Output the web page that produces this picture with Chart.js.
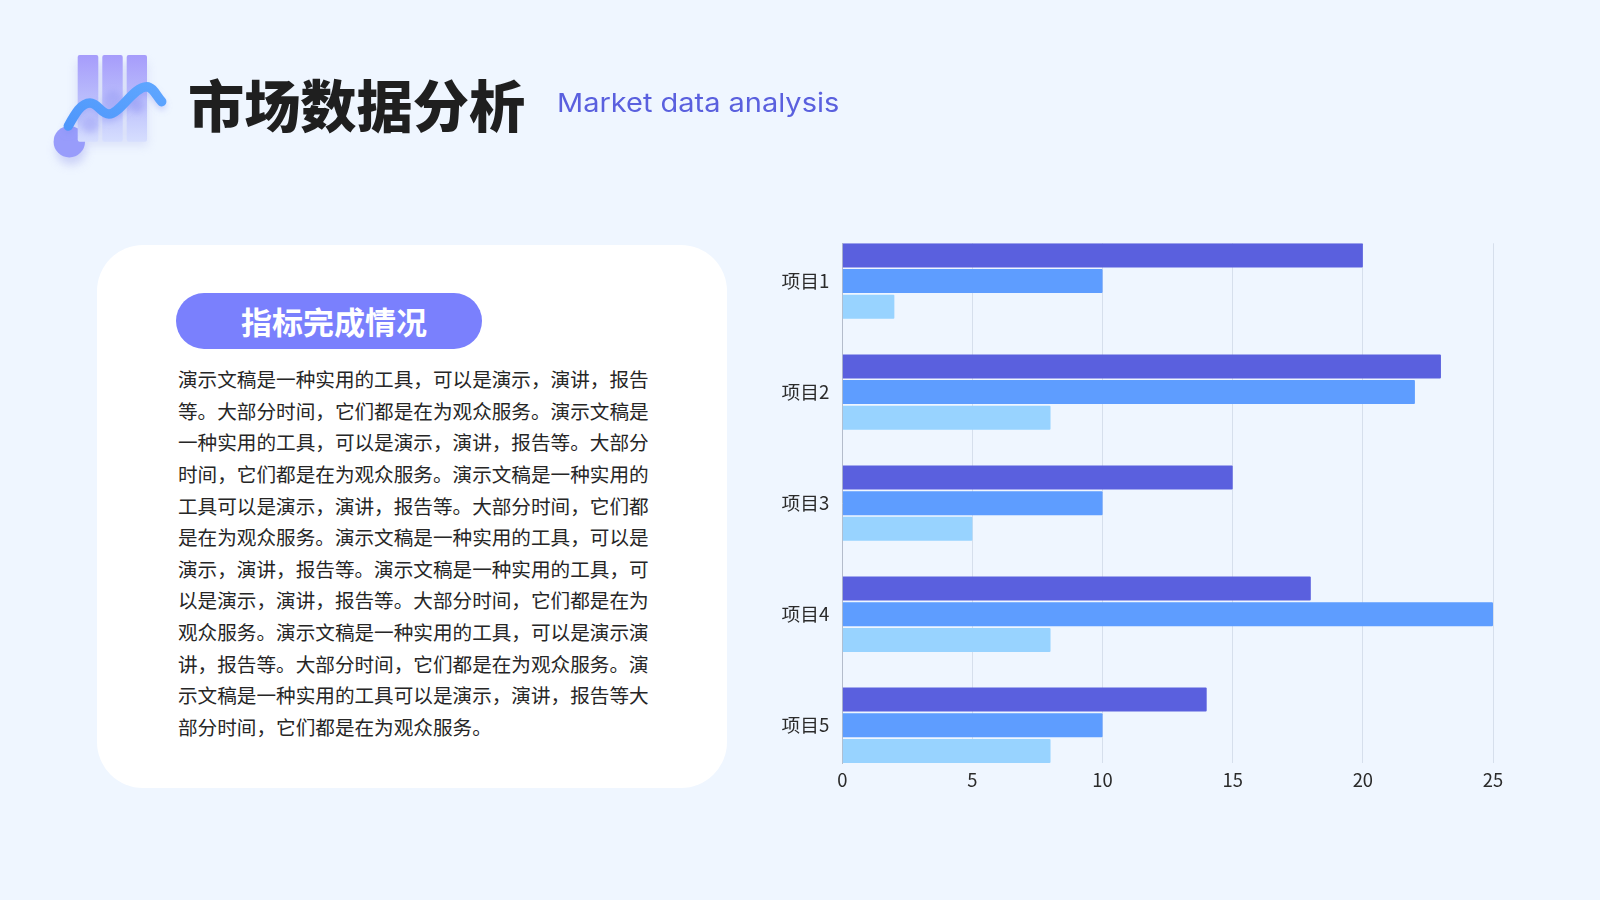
<!DOCTYPE html>
<html lang="zh-CN">
<head>
<meta charset="utf-8">
<title>市场数据分析</title>
<script src="https://cdn.jsdelivr.net/npm/chart.js@4"></script>
<style>
html, body { margin: 0; padding: 0; }
body { width: 1600px; height: 900px; background: #eff6ff; position: relative; overflow: hidden;
       font-family: "Noto Sans CJK SC", sans-serif; }
.icon { position: absolute; left: 0; top: 0; }
.title { position: absolute; left: 188px; top: 63px; font-size: 56.2px; line-height: 80px; font-weight: 900; color: #1f1f1f; white-space: nowrap; }
.subtitle { position: absolute; left: 557px; top: 85px; font-family: Inter, sans-serif; font-size: 26px; line-height: 36px; color: #5a60de; white-space: nowrap; transform-origin: left center; transform: scaleX(1.114); }
.panel { position: absolute; left: 97px; top: 245px; width: 630px; height: 543px; background: #fff; border-radius: 46px; }
.pill { position: absolute; left: 176px; top: 293px; width: 306px; height: 56px; border-radius: 28px; background: #7a80fd; }
.pill span { position: absolute; left: 65px; top: 0; font-size: 31px; line-height: 56px; font-weight: 700; color: #fff; white-space: nowrap; }
.body { position: absolute; left: 178px; top: 363px; width: 472px; }
.body div { font-size: 19.61px; line-height: 31.63px; height: 31.63px; color: #262626; white-space: nowrap; }
.chart-box { position: absolute; left: 760px; top: 230px; width: 780px; height: 580px; }
</style>
</head>
<body>
<svg class="icon" width="200" height="190" viewBox="0 0 200 190">
  <defs>
    <linearGradient id="barFill" x1="0" y1="0" x2="0" y2="1">
      <stop offset="0" stop-color="#a69cfb"/>
      <stop offset="0.55" stop-color="#bcc0fc"/>
      <stop offset="1" stop-color="#d6defe"/>
    </linearGradient>
    <linearGradient id="waveStroke" x1="0" y1="1" x2="1" y2="0">
      <stop offset="0" stop-color="#4f97fb"/>
      <stop offset="1" stop-color="#5ea6ff"/>
    </linearGradient>
    <filter id="soft" x="-50%" y="-50%" width="200%" height="200%"><feGaussianBlur stdDeviation="5"/></filter>
    <filter id="soft2" x="-50%" y="-50%" width="200%" height="200%"><feGaussianBlur stdDeviation="3"/></filter>
  </defs>
  <circle cx="71" cy="150" r="15" fill="#b4b9f3" opacity="0.6" filter="url(#soft)"/>
  <rect x="76" y="62" width="72" height="84" fill="#b8bdf0" opacity="0.35" filter="url(#soft)"/>
  <circle cx="69.3" cy="141.7" r="15.7" fill="#989cfb"/>
  <rect x="77.7" y="55" width="20.6" height="86.7" rx="2" fill="url(#barFill)"/>
  <rect x="102.3" y="55" width="20.4" height="86.7" rx="2" fill="url(#barFill)"/>
  <rect x="126.7" y="55" width="20.3" height="86.7" rx="2" fill="url(#barFill)"/>
  <ellipse cx="113" cy="102" rx="10" ry="12" fill="#9a9ef4" opacity="0.55" filter="url(#soft2)"/>
  <ellipse cx="137" cy="106" rx="7" ry="7" fill="#9a9ef4" opacity="0.6" filter="url(#soft2)"/>
  <ellipse cx="90" cy="124" rx="9" ry="9" fill="#9a9ef4" opacity="0.5" filter="url(#soft2)"/>
  <path d="M68.3 126 C75 114 81 103 90 103 C98 103 101 114 109 114 C120 114 133 87 146.7 86.7 C153 87 156 95 161.7 101.7"
        fill="none" stroke="#7f8df0" stroke-opacity="0.35" stroke-width="9" stroke-linecap="round" filter="url(#soft2)" transform="translate(0 4)"/>
  <path d="M68.3 126 C75 114 81 103 90 103 C98 103 101 114 109 114 C120 114 133 87 146.7 86.7 C153 87 156 95 161.7 101.7"
        fill="none" stroke="url(#waveStroke)" stroke-width="9.5" stroke-linecap="round"/>
</svg>

<div class="title">市场数据分析</div>
<div class="subtitle">Market data analysis</div>

<div class="panel"></div>
<div class="pill"><span>指标完成情况</span></div>
<div class="body" id="bodyText"></div>

<div class="chart-box"><canvas id="grafico"></canvas></div>

<script>
const categorias = ['项目1', '项目2', '项目3', '项目4', '项目5'];
const serie1 = [20, 23, 15, 18, 14];
const serie2 = [10, 22, 10, 25, 10];
const serie3 = [2, 8, 5, 8, 8];
const ticksX = [0, 5, 10, 15, 20, 25];

const linhas = [
    '演示文稿是一种实用的工具，可以是演示，演讲，报告',
    '等。大部分时间，它们都是在为观众服务。演示文稿是',
    '一种实用的工具，可以是演示，演讲，报告等。大部分',
    '时间，它们都是在为观众服务。演示文稿是一种实用的',
    '工具可以是演示，演讲，报告等。大部分时间，它们都',
    '是在为观众服务。演示文稿是一种实用的工具，可以是',
    '演示，演讲，报告等。演示文稿是一种实用的工具，可',
    '以是演示，演讲，报告等。大部分时间，它们都是在为',
    '观众服务。演示文稿是一种实用的工具，可以是演示演',
    '讲，报告等。大部分时间，它们都是在为观众服务。演',
    '示文稿是一种实用的工具可以是演示，演讲，报告等大',
    '部分时间，它们都是在为观众服务。'
];

const caixa = document.getElementById('bodyText');
linhas.forEach(t => {
    const d = document.createElement('div');
    d.textContent = t;
    caixa.appendChild(d);
});

Chart.defaults.font.family = '"Noto Sans CJK SC", sans-serif';
Chart.defaults.font.size = 18;
Chart.defaults.color = '#2b2b2b';

// y is linear so the grid can stop at the first and last bar, like the original
const pontos = valores => valores.map((v, i) => ({ x: v, y: i }));

const chart = new Chart(document.getElementById('grafico'), {
    type: 'bar',
    data: {
        datasets: [
            { label: 'serie1', data: pontos(serie1), backgroundColor: '#5a60de' },
            { label: 'serie2', data: pontos(serie2), backgroundColor: '#5e9dff' },
            { label: 'serie3', data: pontos(serie3), backgroundColor: '#98d3ff' }
        ]
    },
    options: {
        indexAxis: 'y',
        responsive: true,
        maintainAspectRatio: false,
        animation: false,
        categoryPercentage: 0.694,
        barPercentage: 0.935,
        borderRadius: 1,
        layout: { padding: { top: 13.3, right: 47 } },
        plugins: { legend: { display: false }, tooltip: { enabled: false } },
        scales: {
            x: {
                type: 'linear',
                min: 0,
                max: 25,
                afterBuildTicks: axis => { axis.ticks = ticksX.map(v => ({ value: v })); },
                afterFit: axis => { axis.height = 47; },
                grid: { color: '#d6dfec', lineWidth: 1, drawTicks: false },
                border: { display: false },
                ticks: { padding: 6, maxRotation: 0, font: { size: 18.4 } }
            },
            y: {
                type: 'linear',
                reverse: true,
                offset: false,
                min: -0.34,
                max: categorias.length - 1 + 0.34,
                afterBuildTicks: axis => { axis.ticks = categorias.map((c, i) => ({ value: i })); },
                afterFit: axis => { axis.width = 82.3; axis.paddingTop = 0; axis.paddingBottom = 0; },
                grid: { display: false, drawTicks: false, offset: false },
                border: { display: true, color: '#b4bccb', width: 1 },
                ticks: { padding: 13, autoSkip: false, font: { size: 18.7 }, callback: v => categorias[v] }
            }
        }
    }
});
</script>
</body>
</html>
